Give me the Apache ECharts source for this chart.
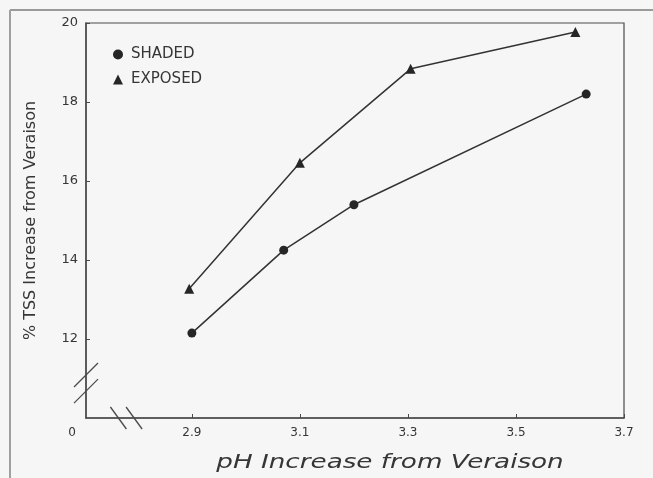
<!DOCTYPE html>
<html>
<head>
<meta charset="utf-8">
<script src="https://cdn.jsdelivr.net/npm/echarts@6/dist/echarts.min.js"></script>
<style>
html,body{margin:0;padding:0;background:#f6f6f6;}
#chart{width:653px;height:478px;}
</style>
</head>
<body>
<div id="chart"></div>
<script>
// Data
var shadedPH = [2.90, 3.07, 3.20, 3.63];
var shadedTSS = [12.15, 14.25, 15.40, 18.20];
var exposedPH = [2.895, 3.10, 3.305, 3.61];
var exposedTSS = [13.27, 16.46, 18.84, 19.77];
var xTicks = [2.9, 3.1, 3.3, 3.5, 3.7];
var yTicks = [12, 14, 16, 18, 20];
var xTitle = 'pH Increase from Veraison';
var yTitle = '% TSS Increase from Veraison';
var xMin = 2.704, xMax = 3.7, yMin = 10, yMax = 20;

function pairs(xs, ys) { return xs.map(function (x, i) { return [x, ys[i]]; }); }

var ink = '#333333';
var txt = '#363636';
var font = 'DejaVu Sans';
var chart = echarts.init(document.getElementById('chart'), null, {renderer: 'canvas'});
var option = {
  backgroundColor: '#f6f6f6',
  animation: false,
  grid: {left: 86, right: 29, top: 23, bottom: 60, show: true, borderColor: '#4a4a4a', borderWidth: 1.2, backgroundColor: 'transparent'},
  legend: {
    left: 108, top: 42, orient: 'vertical', itemGap: 10, itemWidth: 10, itemHeight: 10,
    textStyle: {fontFamily: font, fontSize: 15, color: txt, padding: [0, 0, 0, 3]},
    data: [{name: 'SHADED', icon: 'circle'}, {name: 'EXPOSED', icon: 'triangle'}]
  },
  xAxis: {
    type: 'value', min: xMin, max: xMax,
    axisLine: {show: true, lineStyle: {color: '#4a4a4a', width: 1.5}},
    axisTick: {show: true, inside: true, length: 4, customValues: xTicks, lineStyle: {color: '#4a4a4a'}},
    axisLabel: {
      customValues: [xMin].concat(xTicks), fontFamily: font, fontSize: 12, color: txt, margin: 9,
      formatter: function (v) { return Math.abs(v - xMin) < 1e-6 ? '{o|0}' : v.toFixed(1); },
      rich: {o: {fontFamily: font, fontSize: 12, color: txt, padding: [0, 28, 0, 0]}}
    },
    splitLine: {show: false}
  },
  yAxis: {
    type: 'value', min: yMin, max: yMax,
    name: yTitle, nameLocation: 'middle', nameGap: 47,
    nameTextStyle: {fontFamily: font, fontSize: 16, color: txt},
    axisLine: {show: true, lineStyle: {color: '#4a4a4a', width: 1.5}},
    axisTick: {show: true, inside: true, length: 4, customValues: yTicks, lineStyle: {color: '#4a4a4a'}},
    axisLabel: {customValues: yTicks, fontFamily: font, fontSize: 13, color: txt, margin: 8},
    splitLine: {show: false}
  },
  series: [
    {name: 'SHADED', type: 'line', data: pairs(shadedPH, shadedTSS), symbol: 'circle', symbolSize: 9,
     lineStyle: {color: ink, width: 1.5}, itemStyle: {color: '#262626'}},
    {name: 'EXPOSED', type: 'line', data: pairs(exposedPH, exposedTSS), symbol: 'triangle', symbolSize: 10,
     lineStyle: {color: ink, width: 1.5}, itemStyle: {color: '#262626'}}
  ]
};
chart.setOption(option);

// Decorations: axis-break marks, stretched x title, and scan frame, placed relative to the axes
var origin = chart.convertToPixel({gridIndex: 0}, [xMin, yMin]);
var corner = chart.convertToPixel({gridIndex: 0}, [xMax, yMin]);
var yb1 = chart.convertToPixel({gridIndex: 0}, [xMin, 11.09]);
var yb2 = chart.convertToPixel({gridIndex: 0}, [xMin, 10.68]);
var xb1 = chart.convertToPixel({gridIndex: 0}, [2.764, yMin]);
var xb2 = chart.convertToPixel({gridIndex: 0}, [2.793, yMin]);
function seg(cx, cy, dx, dy) {
  return {type: 'line', shape: {x1: cx - dx, y1: cy - dy, x2: cx + dx, y2: cy + dy},
          style: {stroke: '#4a4a4a', lineWidth: 1.3}, silent: true};
}
var titleCx = (origin[0] + corner[0]) / 2 + 35;
chart.setOption({
  graphic: [
    seg(yb1[0], yb1[1], 12, -12),
    seg(yb2[0], yb2[1], 12, -12),
    seg(xb1[0], origin[1], 8, 11),
    seg(xb2[0], origin[1], 8, 11),
    {type: 'text', x: titleCx, y: origin[1] + 45, scaleX: 1.38, silent: true,
     style: {text: xTitle, fontFamily: font, fontStyle: 'italic', fontSize: 19, fill: txt,
             align: 'center', verticalAlign: 'middle'}},
    {type: 'line', shape: {x1: 10, y1: 10, x2: 653, y2: 10}, style: {stroke: '#9a9a9a', lineWidth: 2}, silent: true},
    {type: 'line', shape: {x1: 10, y1: 10, x2: 10, y2: 478}, style: {stroke: '#a0a0a0', lineWidth: 2}, silent: true}
  ]
});
</script>
</body>
</html>
